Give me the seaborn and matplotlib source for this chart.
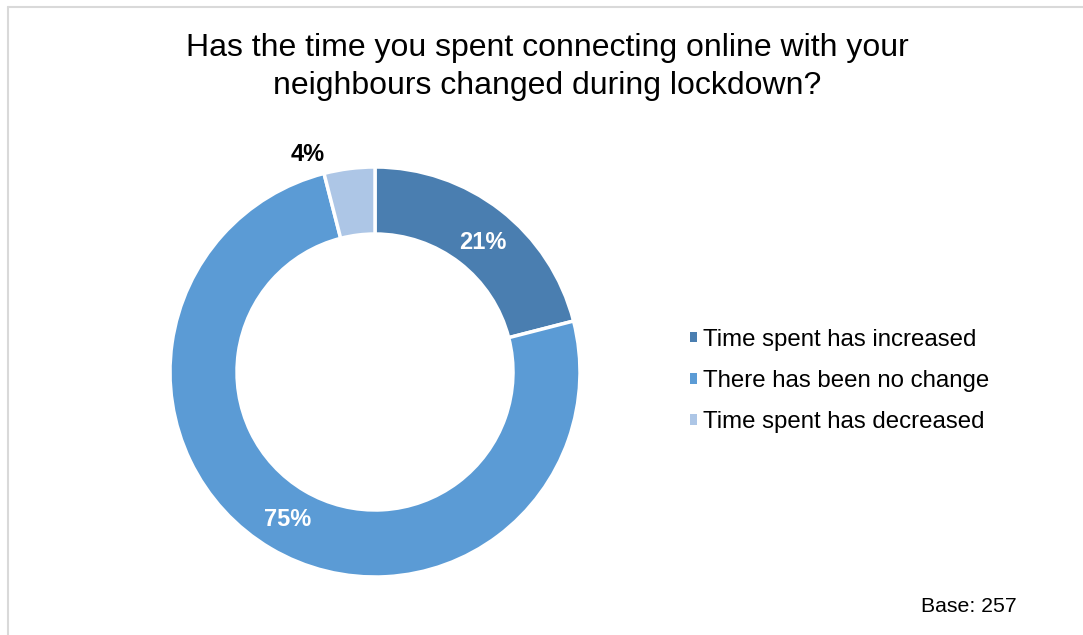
import matplotlib
matplotlib.use("Agg")
import matplotlib.pyplot as plt
import seaborn as sns
import numpy as np
from matplotlib.patches import Patch
from matplotlib.lines import Line2D

# Survey responses
categories = ["Time spent has increased", "There has been no change", "Time spent has decreased"]
shares = [21, 75, 4]
label_texts = ["21%", "75%", "4%"]
colors = ["#4a7eb0", "#5b9bd5", "#adc6e6"]
title = "Has the time you spent connecting online with your\nneighbours changed during lockdown?"
base_note = "Base: 257"

sns.set_theme(style="white")
plt.rcParams["font.family"] = ["Liberation Sans", "DejaVu Sans"]

W, H = 1083, 635
fig = plt.figure(figsize=(W / 100, H / 100), dpi=100)
fig.patch.set_facecolor("white")

# Donut axes: centre (375, 372) px, outer radius 205 px
cx, cy, r = 375, 372, 205
ax = fig.add_axes([(cx - r) / W, (H - cy - r) / H, 2 * r / W, 2 * r / H])
ring = 1 - 138 / 205
wedges, _ = ax.pie(shares, colors=colors, startangle=90, counterclock=False,
                   radius=1, wedgeprops=dict(width=ring, edgecolor="white", linewidth=2.5))
ax.set_xlim(-1, 1)
ax.set_ylim(-1, 1)
ax.set_aspect("equal")
ax.axis("off")

# Value labels: inside the ring, except the small slice which sits outside
for w, txt in zip(wedges, label_texts):
    mid = np.deg2rad((w.theta1 + w.theta2) / 2)
    if txt == "4%":
        mid = mid + np.deg2rad(10)
        rr, col = 1.11, "black"
    elif txt == "21%":
        mid = mid - np.deg2rad(2)
        rr, col = 0.82, "white"
    else:
        rr, col = 0.835, "white"
    ax.text(rr * np.cos(mid), rr * np.sin(mid), txt, ha="center", va="center",
            fontsize=17, fontweight="bold", color=col, clip_on=False)

fig.text(547 / W, 1 - 67 / H, title, ha="center", va="center", fontsize=23,
         linespacing=1.34, color="black")

handles = [Patch(facecolor=c, edgecolor="none") for c in colors]
fig.legend(handles, categories, loc="center left", bbox_to_anchor=(690 / W, 1 - 381 / H),
           frameon=False, fontsize=17.3, handlelength=0.3, handleheight=0.3,
           handletextpad=0.25, labelspacing=0.8, borderpad=0, borderaxespad=0,
           labelcolor="black")

fig.text(921 / W, 1 - 607 / H, base_note, ha="left", va="center", fontsize=15.3, color="black")

# Chart-area border (top and left edges)
fig.add_artist(Line2D([8 / W, 1], [1 - 7 / H, 1 - 7 / H], color="#d9d9d9", lw=1.5))
fig.add_artist(Line2D([8 / W, 8 / W], [1 - 7 / H, 0], color="#d9d9d9", lw=1.5))

fig.savefig("out.png", dpi=100, facecolor="white")
